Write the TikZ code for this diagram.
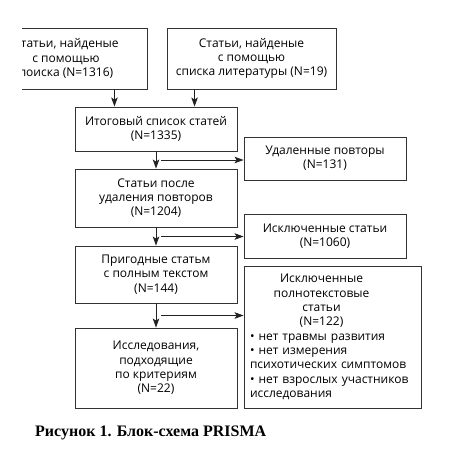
\documentclass[tikz,border=0pt]{standalone}
\usepackage{fontspec}
\usepackage{tikz}
\usetikzlibrary{arrows.meta,calc}
\newfontfamily\kastenfont{Open Sans}
\newfontfamily\unterschrift{Liberation Serif}
\definecolor{rand}{HTML}{333333}
\definecolor{pfeilf}{HTML}{222222}
\tikzset{
  kasten/.style={draw=rand,line width=0.9pt,inner sep=0pt,
    font=\kastenfont\fontsize{12}{14.3}\selectfont},
  kastenm/.style={kasten,align=center},
  pfeil/.style={-{Stealth[length=9pt,width=6.5pt,inset=2pt]},pfeilf,line width=0.8pt},
}

\begin{document}
\begin{tikzpicture}[x=1pt,y=-1pt]
  \useasboundingbox (0,0) rectangle (454,451);
  % obere Kaesten
  \begin{scope}
    \clip (22,0) rectangle (160,100);
    \node[kastenm,minimum width=162,minimum height=61] (quelle1) at (66,58.5)
      {Статьи, найденые\\ с помощью\\ поиска (N=1316)};
  \end{scope}
  \node[kastenm,minimum width=169,minimum height=61] (quelle2) at (251.5,58.5)
    {Статьи, найденые\\ с помощью\\ списка литературы (N=19)};
  % linke Spalte
  \node[kastenm,minimum width=162,minimum height=44] (gesamt) at (156,129)
    {Итоговый список статей\\ (N=1335)};
  \node[kastenm,minimum width=162,minimum height=58] (ohnedup) at (156,198)
    {Статьи после\\ удаления повторов\\ (N=1204)};
  \node[kastenm,minimum width=162,minimum height=57] (volltext) at (156,274.5)
    {Пригодные статьм\\ с полным текстом\\ (N=144)};
  \node[kastenm,minimum width=162,minimum height=80] (final) at (156,368)
    {Исследования,\\ подходящие\\ по критериям\\ (N=22)};
  % rechte Spalte
  \node[kastenm,minimum width=162,minimum height=43] (dup) at (325,158.5)
    {Удаленные повторы\\ (N=131)};
  \node[kastenm,minimum width=162,minimum height=44] (ausg1) at (325,236)
    {Исключенные статьи\\ (N=1060)};
  \node[kasten,minimum width=177,minimum height=142,text width=165] (ausg2) at (332.5,337)
    {\centering\rightskip=22pt plus 1fil
     Исключенные\\ полнотекстовые\\ статьи\\ (N=122)\par
     \leftskip=0pt \rightskip=0pt plus 1fil
     • нет травмы развития\par
     • нет измерения психотических симптомов\par
     • нет взрослых участников исследования\par};
  % Pfeile
  \draw[pfeil] ([xshift=-33pt]quelle1.south east) -- ([xshift=-33pt]quelle1.south east |- gesamt.north);
  \draw[pfeil] ([xshift=28pt]quelle2.south west) -- ([xshift=28pt]quelle2.south west |- gesamt.north);
  \draw[pfeil] (gesamt) -- (ohnedup);
  \draw[pfeil] (ohnedup) -- (volltext);
  \draw[pfeil] (volltext) -- (final);
  \coordinate (m1) at ($(gesamt.south)!.5!(ohnedup.north)$);
  \coordinate (m2) at ($(ohnedup.south)!.5!(volltext.north)$);
  \coordinate (m3) at ($(volltext.south)!.5!(final.north)$);
  \draw[pfeil] ([xshift=5pt]m1) -- (m1 -| dup.west);
  \draw[pfeil] ([xshift=5pt]m2) -- (m2 -| ausg1.west);
  \draw[pfeil] ([xshift=5pt]m3) -- (m3 -| ausg2.west);
  % Bildunterschrift
  \node[anchor=west,inner sep=0pt,font=\unterschrift\bfseries\fontsize{16}{18}\selectfont] (titel) at (35,433)
    {Рисунок 1. Блок-схема PRISMA};
\end{tikzpicture}
\end{document}
